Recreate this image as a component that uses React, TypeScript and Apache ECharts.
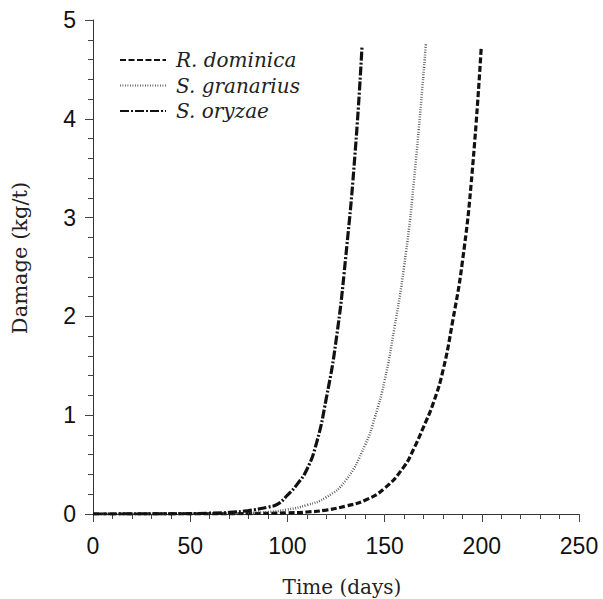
import React, { useEffect, useRef } from "react";
import * as echarts from "echarts";

const seriesNames = ["R. dominica", "S. granarius", "S. oryzae"];

const dominicaDays = [0, 60, 80, 100, 110, 120, 130, 140, 150, 160, 165, 170, 175, 180, 185, 190, 195, 199.7];
const dominicaDamage = [0, 0.001, 0.004, 0.012, 0.02, 0.04, 0.08, 0.14, 0.26, 0.48, 0.66, 0.88, 1.12, 1.45, 1.95, 2.55, 3.45, 4.72];

const granariusDays = [0, 50, 70, 80, 90, 100, 110, 120, 130, 140, 145, 150, 155, 160, 165, 171.3];
const granariusDamage = [0, 0.002, 0.006, 0.012, 0.02, 0.045, 0.09, 0.17, 0.34, 0.7, 0.98, 1.35, 1.88, 2.5, 3.35, 4.77];

const oryzaeDays = [0, 40, 60, 70, 80, 90, 95, 100, 105, 110, 115, 120, 125, 130, 135, 138.4];
const oryzaeDamage = [0, 0.002, 0.008, 0.016, 0.035, 0.07, 0.1, 0.19, 0.3, 0.45, 0.72, 1.17, 1.75, 2.6, 3.7, 4.74];

const xTitle = "Time (days)";
const yTitle = "Damage (kg/t)";

const pairs = (xs: number[], ys: number[]) => xs.map((x, i) => [x, ys[i]]);

export default function App() {
  const ref = useRef<HTMLDivElement>(null);

  useEffect(() => {
    if (!ref.current) return;
    const chart = echarts.init(ref.current, null, { renderer: "svg" });
    const serif = "DejaVu Serif";
    const sans = "Liberation Sans";
    const axisCommon = {
      axisLine: { show: true, lineStyle: { color: "#333", width: 1 } },
      axisTick: { show: true, inside: false, length: 8, lineStyle: { color: "#444", width: 1 } },
      minorTick: { show: true, splitNumber: 5, length: 5, lineStyle: { color: "#444", width: 1 } },
      splitLine: { show: false },
      minorSplitLine: { show: false },
    };
    chart.setOption({
      animation: false,
      backgroundColor: "#ffffff",
      grid: { left: 93, right: 24, top: 20, bottom: 85, containLabel: false },
      xAxis: {
        type: "value",
        min: 0,
        max: 250,
        interval: 50,
        ...axisCommon,
        axisLabel: { fontFamily: sans, fontSize: 23, color: "#111", margin: 20 },
      },
      yAxis: {
        type: "value",
        min: 0,
        max: 5,
        interval: 1,
        ...axisCommon,
        axisLabel: { fontFamily: sans, fontSize: 23, color: "#111", margin: 17 },
      },
      legend: {
        show: true,
        orient: "vertical",
        left: 119,
        top: 50,
        padding: 0,
        itemWidth: 46,
        itemHeight: 20,
        itemGap: 5.5,
        data: seriesNames,
        itemStyle: { opacity: 0 },
        textStyle: {
          fontFamily: serif,
          fontStyle: "italic",
          fontSize: 20,
          color: "#222",
          padding: [0, 0, 0, 5],
        },
      },
      graphic: [
        {
          type: "text",
          x: 342,
          y: 587,
          style: {
            text: xTitle,
            x: 0,
            y: 0,
            fontFamily: serif,
            fontSize: 20,
            fill: "#222",
            align: "center",
            verticalAlign: "middle",
          },
        },
        {
          type: "text",
          x: 20,
          y: 258,
          rotation: Math.PI / 2,
          style: {
            text: yTitle,
            x: 0,
            y: 0,
            fontFamily: serif,
            fontSize: 21,
            fill: "#222",
            align: "center",
            verticalAlign: "middle",
          },
        },
      ],
      series: [
        {
          name: seriesNames[0],
          type: "line",
          data: pairs(dominicaDays, dominicaDamage),
          showSymbol: false,
          symbol: "none",
          smooth: 0.5,
          lineStyle: { color: "#111", width: 3.2, type: [6, 2.5] },
          itemStyle: { color: "#111" },
        },
        {
          name: seriesNames[1],
          type: "line",
          data: pairs(granariusDays, granariusDamage),
          showSymbol: false,
          symbol: "none",
          smooth: 0.5,
          lineStyle: { color: "#444", width: 2.5, type: [0.8, 1.7] },
          itemStyle: { color: "#444" },
        },
        {
          name: seriesNames[2],
          type: "line",
          data: pairs(oryzaeDays, oryzaeDamage),
          showSymbol: false,
          symbol: "none",
          smooth: 0.5,
          lineStyle: { color: "#111", width: 3.2, type: [9, 2, 2, 2] },
          itemStyle: { color: "#111" },
        },
      ],
    });
    return () => chart.dispose();
  }, []);

  return (
    <div
      ref={ref}
      style={{ position: "fixed", left: 0, top: 0, width: 603, height: 599, background: "#fff" }}
    />
  );
}
